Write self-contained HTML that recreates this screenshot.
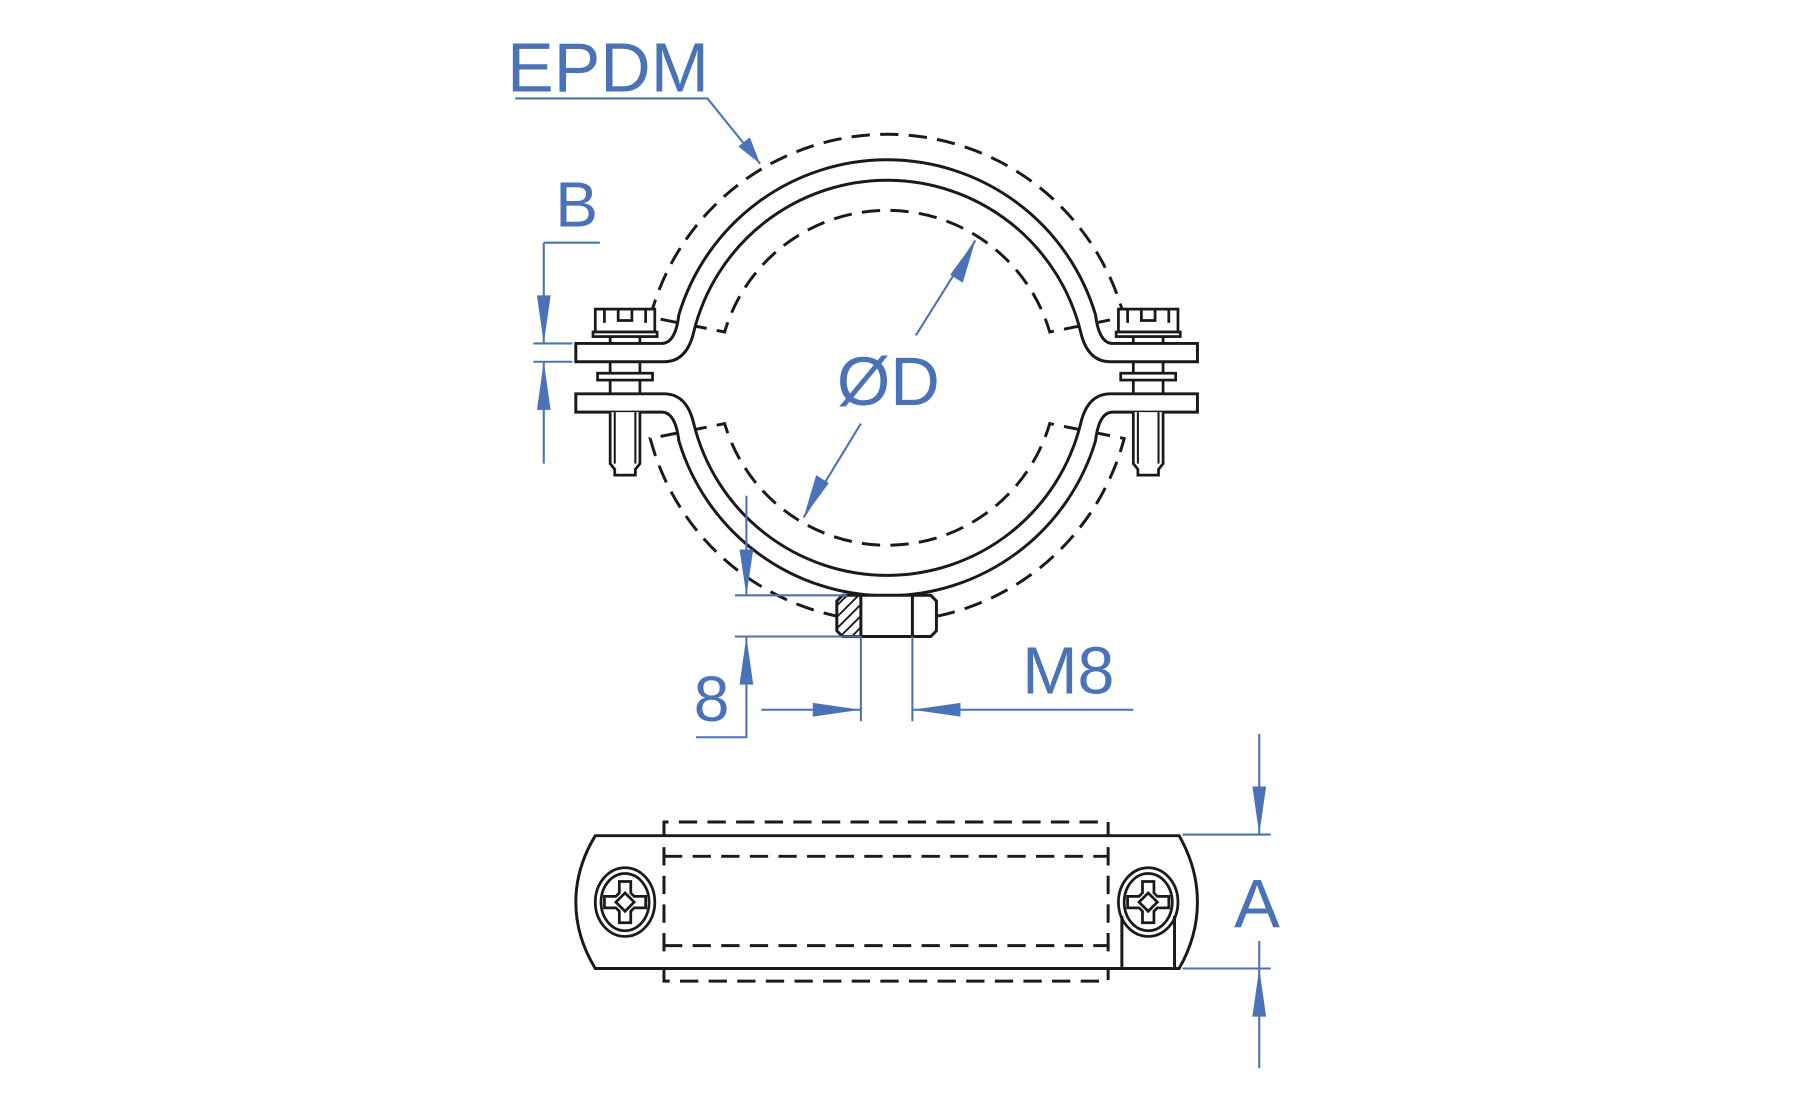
<!DOCTYPE html>
<html><head><meta charset="utf-8"><style>
html,body{margin:0;padding:0;background:#fff;}
svg{display:block}
text{font-family:"Liberation Sans",sans-serif;fill:#4a72b8}
</style></head><body>
<svg width="1795" height="1110" viewBox="0 0 1568 969.6" xmlns="http://www.w3.org/2000/svg">
<defs>
<clipPath id="hc"><rect x="731" y="520" width="21" height="36"/></clipPath>
<g id="bolt" fill="#fff" stroke="#1a1a1a" stroke-width="2.4">
 <rect x="-26" y="270" width="52" height="20"/>
 <path d="M-18 270 V282 M18 270 V282 M-6 270 V280 H6 V270" fill="none"/>
 <rect x="-28" y="290" width="56" height="4"/>
 <path d="M-13 294 V300 M13 294 V300 M-13 316 V344 M13 316 V344" fill="none"/>
 <rect x="-24" y="326" width="48" height="6"/>
 <path d="M-13 360 V405 L-9 410 V415 H9 V410 L13 405 V360" />
 <path d="M-9 360 V405 M9 360 V405" fill="none" stroke-width="1.8"/>
</g>
<g id="screw" fill="none" stroke="#1a1a1a" stroke-width="2.4">
 <ellipse cx="0" cy="0" rx="26" ry="30"/>
 <ellipse cx="0" cy="0" rx="21" ry="25"/>
 <path d="M-5 -18 H5 V-8 L8 -5 H18 V5 H8 L5 8 V18 H-5 V8 L-8 5 H-18 V-5 H-8 L-5 -8 Z"/>
 <path d="M0 -8 L8 0 L0 8 L-8 0 Z"/>
</g>
</defs>
<g fill="none" stroke="#1a1a1a" stroke-width="2.6">
 <path d="M568 277 A214 214 0 0 1 982 277 L917 290 A148 148 0 0 0 633 290 Z" stroke-dasharray="16 9"/>
 <path d="M568 383 A214 214 0 0 0 982 383 L917 370 A148 148 0 0 1 633 370 Z" stroke-dasharray="16 9"/>
 <path d="M503 300 H578 Q590 300 593 275 A190 190 0 0 1 957 275 Q960 300 972 300 H1046 V316 H970 Q950 316 944 290 A174 174 0 0 0 606 290 Q600 316 580 316 H503 Z" fill="#fff"/>
 <path d="M503 360 H578 Q590 360 593 385 A190 190 0 0 0 957 385 Q960 360 972 360 H1046 V344 H970 Q950 344 944 370 A174 174 0 0 1 606 370 Q600 344 580 344 H503 Z" fill="#fff"/>
 <path d="M736 520 H813 L818 525 V551 L813 556 H736 L731 551 V525 Z" fill="#fff"/>
 <path d="M752 520 V556 M797 520 V556"/>
 <g clip-path="url(#hc)" stroke-width="1.6"><path d="M720 560 L760 520 M720 550 L760 510 M720 570 L760 530 M720 580 L760 540 M720 590 L760 550 M720 540 L760 500"/></g>
</g>
<use href="#bolt" x="546"/>
<use href="#bolt" x="1003"/>
<g fill="none" stroke="#1a1a1a" stroke-width="2.6">
 <path d="M520 730 H1030 Q1046 758 1046 788 Q1046 818 1030 846 H520 Q503 818 503 788 Q503 758 520 730 Z"/>
 <path d="M580 730 V718 H968 V730 M580 846 V857 H968 V846" stroke-dasharray="16 9"/>
 <path d="M580 748 H968 M580 826 H968 M580 740 V836 M968 740 V836" stroke-dasharray="16 9"/>
 <path d="M980 800 V846 M1026 800 V846"/>
</g>
<use href="#screw" x="546" y="788"/>
<use href="#screw" x="1003" y="788"/>
<g fill="none" stroke="#4a72b8" stroke-width="1.8">
 <path d="M450 86 H618 L664 143"/>
 <path d="M475 212 H524 M475 212 V300 M466 300 H500 M466 316 H500 M475 316 V405"/>
 <path d="M800 293 L852 210 M752 370 L702 452"/>
 <path d="M652 433 V520 M642 520 H740 M642 556 H752 M652 556 V644 H608"/>
 <path d="M752 556 V630 M797 556 V630 M665 620 H752 M797 620 H990"/>
 <path d="M1100 641 V729 M1033 729 H1110 M1033 846 H1110 M1100 822 V933"/>
</g>
<g fill="#4a72b8">
 <path d="M664 143 L645 128 L655 120 Z"/>
 <path d="M475 300 L469 258 L481 258 Z"/>
 <path d="M475 316 L469 358 L481 358 Z"/>
 <path d="M852 210 L841 247 L830 240 Z"/>
 <path d="M702 452 L713 415 L724 422 Z"/>
 <path d="M652 520 L646 480 L658 480 Z"/>
 <path d="M652 556 L646 598 L658 598 Z"/>
 <path d="M752 620 L710 614 L710 626 Z"/>
 <path d="M797 620 L839 614 L839 626 Z"/>
 <path d="M1100 729 L1094 687 L1106 687 Z"/>
 <path d="M1100 846 L1094 888 L1106 888 Z"/>
</g>
<text x="443" y="80" font-size="61">EPDM</text>
<text x="485" y="198" font-size="56">B</text>
<text x="776" y="354" font-size="60" text-anchor="middle">ØD</text>
<text x="606" y="630" font-size="56">8</text>
<text x="893" y="606" font-size="58">M8</text>
<text x="1078" y="810" font-size="60">A</text>
</svg>
</body></html>
